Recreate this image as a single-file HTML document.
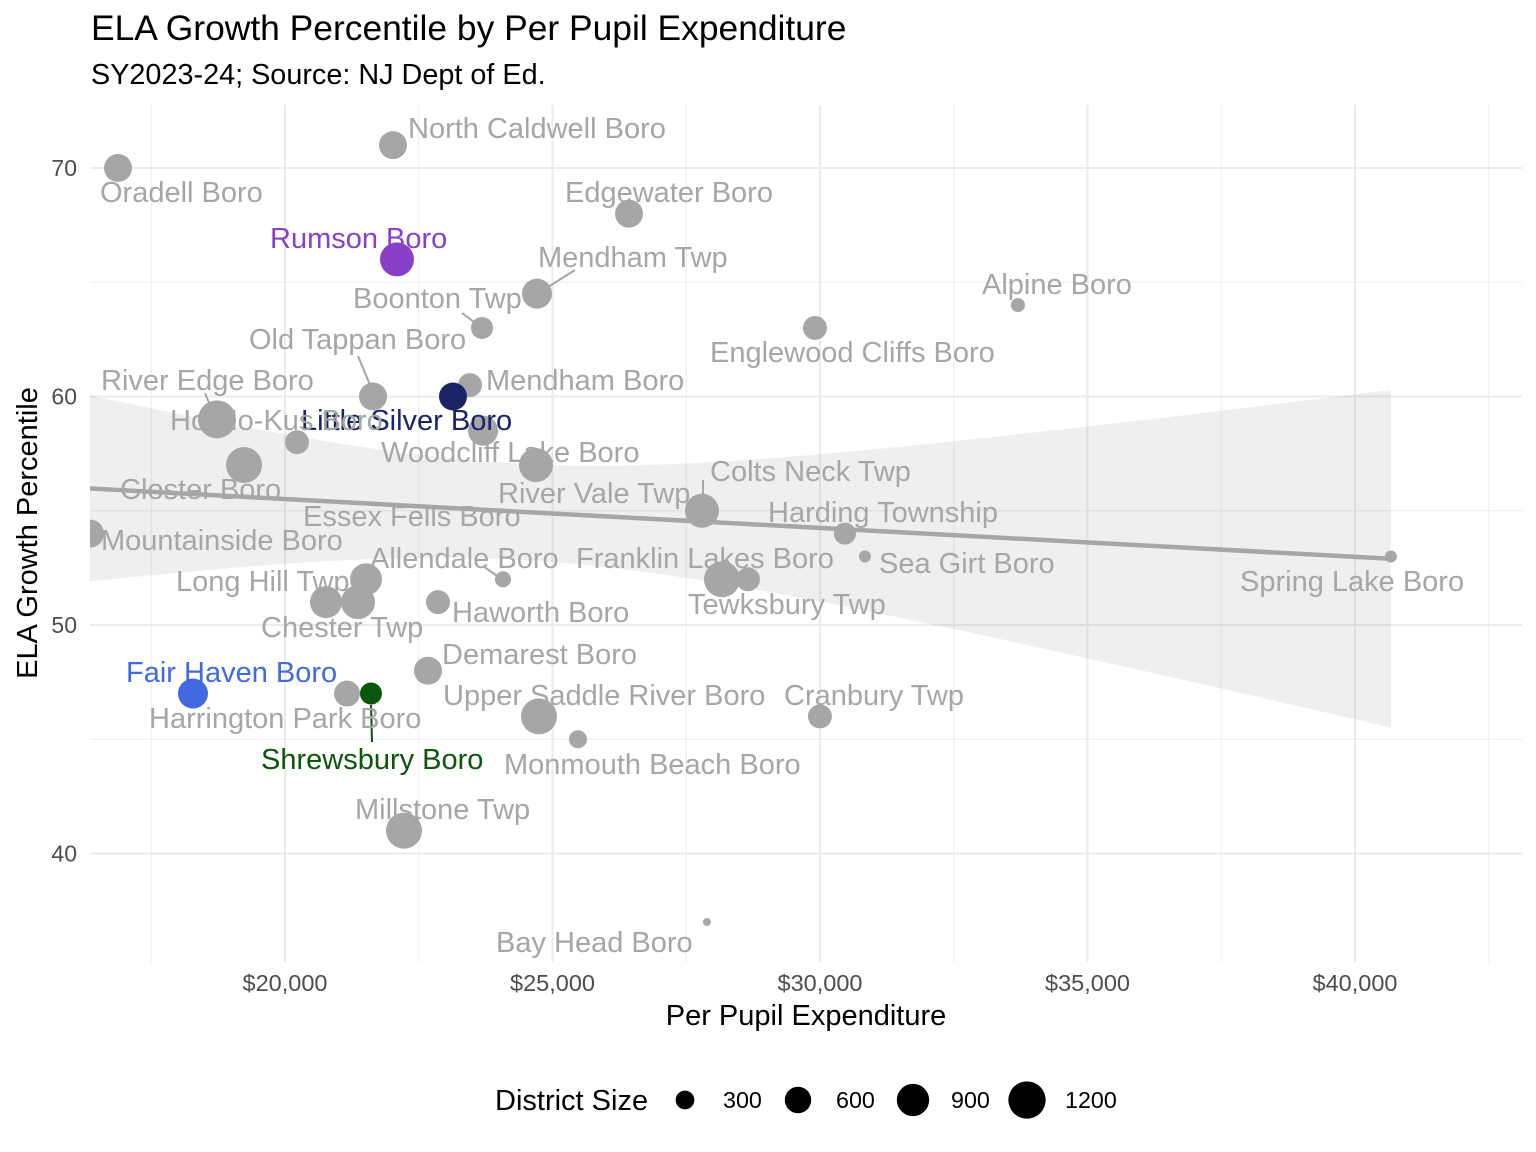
<!DOCTYPE html>
<html><head><meta charset="utf-8"><style>
body{margin:0;background:#fff;}
svg{display:block;font-family:"Liberation Sans",sans-serif;}
</style></head><body>
<svg id="chart" width="1536" height="1152" viewBox="0 0 1536 1152">
<text x="91" y="40" font-size="35.4" fill="#000">ELA Growth Percentile by Per Pupil Expenditure</text>
<text x="91" y="84" font-size="28.8" fill="#000">SY2023-24; Source: NJ Dept of Ed.</text>
<defs><clipPath id="pclip"><rect x="90" y="105" width="1432" height="857"/></clipPath></defs>
<g id="grid"></g>
<g id="ribbon" clip-path="url(#pclip)"></g>
<g id="points" clip-path="url(#pclip)"></g>
<g id="labels"></g>
<g id="axes"></g>
<text x="806" y="1025" font-size="29" text-anchor="middle">Per Pupil Expenditure</text>
<text transform="translate(37,533) rotate(-90)" font-size="29" text-anchor="middle">ELA Growth Percentile</text>
<g id="legend"></g>
</svg>
<script>
const names=["Oradell Boro","North Caldwell Boro","Edgewater Boro","Rumson Boro","Mendham Twp","Alpine Boro","Boonton Twp","Englewood Cliffs Boro","Old Tappan Boro","Mendham Boro","Little Silver Boro","River Edge Boro","Ho-Ho-Kus Boro","Woodcliff Lake Boro","Closter Boro","River Vale Twp","Colts Neck Twp","Harding Township","Sea Girt Boro","Spring Lake Boro","Mountainside Boro","Allendale Boro","Franklin Lakes Boro","Tewksbury Twp","Long Hill Twp","Chester Twp","Essex Fells Boro","Haworth Boro","Demarest Boro","Fair Haven Boro","Harrington Park Boro","Shrewsbury Boro","Upper Saddle River Boro","Cranbury Twp","Monmouth Beach Boro","Millstone Twp","Bay Head Boro"];
const expend=[16879,22019,26430,22093,24710,33700,23682,29906,21645,23458,23140,20224,18729,23701,19234,24691,27794,30466,30840,40671,16355,24074,28168,28654,21514,20766,21364,22860,22673,18280,21159,21607,24747,29999,25476,22224,27887];
const growth=[70,71,68,66,64.5,64,63,63,60,60.5,60,58,59,58.5,57,57,55,54,53,53,54,52,52,52,52,51,51,51,48,47,47,47,46,46,45,41,37];
const sizes=[648,648,648,955,744,162,400,476,648,476,648,476,1193,744,1071,955,955,400,119,119,648,212,1071,476,846,846,955,476,648,744,559,400,1071,476,268,1071,53];
const xTicks=[20000,25000,30000,35000,40000];
const xTickLabels=["$20,000","$25,000","$30,000","$35,000","$40,000"];
const yTicks=[40,50,60,70];
const legendSizes=[300,600,900,1200];
</script>
<script>
const NS="http://www.w3.org/2000/svg";
function mk(t,a,p){const e=document.createElementNS(NS,t);for(const k in a)e.setAttribute(k,a[k]);p.appendChild(e);return e;}
const X=v=>285+(v-20000)*0.0535;
const Y=v=>168+(70-v)*22.85;
const R=s=>0.55*Math.sqrt(s);
const L=90,Rt=1522,T=105,B=962;
const grid=document.getElementById('grid');
for(let v=17500;v<=42500;v+=5000){const l=mk('line',{x1:X(v),x2:X(v),y1:T,y2:B,stroke:'#ebebeb','stroke-width':1},grid);}
for(let v=45;v<=65;v+=10){const l=mk('line',{x1:L,x2:Rt,y1:Y(v),y2:Y(v),stroke:'#ebebeb','stroke-width':1},grid);}
const axes=document.getElementById('axes');
xTicks.forEach((v,i)=>{const l=mk('line',{x1:X(v),x2:X(v),y1:T,y2:B,stroke:'#ebebeb','stroke-width':2},grid);

const t=mk('text',{x:X(v),y:991,'font-size':23.5,'text-anchor':'middle',fill:'#4d4d4d'},axes);t.textContent=xTickLabels[i];
});
yTicks.forEach(v=>{const l=mk('line',{x1:L,x2:Rt,y1:Y(v),y2:Y(v),stroke:'#ebebeb','stroke-width':2},grid);

const t=mk('text',{x:77,y:Y(v)+8,'font-size':23,'text-anchor':'end',fill:'#4d4d4d'},axes);t.textContent=v;
});
const n=expend.length;const mx=expend.reduce((a,b)=>a+b)/n,my=growth.reduce((a,b)=>a+b)/n;
let sxx=0,sxy=0;for(let i=0;i<n;i++){sxx+=(expend[i]-mx)**2;sxy+=(expend[i]-mx)*(growth[i]-my);}
const b1=sxy/sxx,b0=my-b1*mx;let sse=0;for(let i=0;i<n;i++)sse+=(growth[i]-b0-b1*expend[i])**2;
const s=Math.sqrt(sse/(n-2)),tq=1.58;
const x0=Math.min(...expend),x1=Math.max(...expend);
const up=[],lo=[];for(let k=0;k<=80;k++){const v=x0+(x1-x0)*k/80;const f=b0+b1*v;const se=s*Math.sqrt(1/n+(v-mx)**2/sxx);up.push(X(v)+','+Y(f+tq*se));lo.unshift(X(v)+','+Y(f-tq*se));}
const rg=document.getElementById('ribbon');
const rb=mk('polygon',{points:up.concat(lo).join(' '),fill:'#999','fill-opacity':0.16},rg);

const rl=mk('line',{x1:X(x0),y1:Y(b0+b1*x0),x2:X(x1),y2:Y(b0+b1*x1),stroke:'#a6a6a6','stroke-width':4.5},rg);

const colors={"Rumson Boro":"#8a3fcb","Little Silver Boro":"#1a2466","Fair Haven Boro":"#4169e1","Shrewsbury Boro":"#0a560a"};
const pg=document.getElementById('points');
const order=names.map((_,i)=>i).sort((a,b)=>(colors[names[a]]?1:0)-(colors[names[b]]?1:0));
order.forEach(i=>{const c=mk('circle',{cx:X(expend[i]),cy:Y(growth[i]),r:R(sizes[i]),fill:colors[names[i]]||'#a6a6a6'},pg);
});
const lblPos={"North Caldwell Boro":[408,128],"Oradell Boro":[100,192],"Edgewater Boro":[565,192],"Rumson Boro":[270,238],"Mendham Twp":[538,257],"Alpine Boro":[982,284],"Boonton Twp":[353,298],"Old Tappan Boro":[249,339],"Englewood Cliffs Boro":[710,352],"River Edge Boro":[101,380],"Mendham Boro":[486,380],"Ho-Ho-Kus Boro":[170,420],"Little Silver Boro":[301,420],"Woodcliff Lake Boro":[381,452],"Colts Neck Twp":[710,471],"Closter Boro":[120,489],"River Vale Twp":[498,493],"Harding Township":[768,512],"Essex Fells Boro":[303,516],"Mountainside Boro":[101,540],"Allendale Boro":[370,558],"Franklin Lakes Boro":[576,558],"Sea Girt Boro":[879,563],"Long Hill Twp":[176,581],"Spring Lake Boro":[1240,581],"Tewksbury Twp":[688,604],"Haworth Boro":[452,612],"Chester Twp":[261,627],"Demarest Boro":[442,654],"Fair Haven Boro":[126,672],"Upper Saddle River Boro":[443,695],"Cranbury Twp":[784,695],"Harrington Park Boro":[149,718],"Shrewsbury Boro":[261,759],"Monmouth Beach Boro":[504,764],"Millstone Twp":[355,809],"Bay Head Boro":[496,942]};
const segs=[[548,287,575,270,'#a6a6a6'],[462,313,482,328,'#a6a6a6'],[358,356,370,385,'#a6a6a6'],[205,393,212,410,'#a6a6a6'],[703,480,703,500,'#a6a6a6'],[483,566,500,578,'#a6a6a6'],[371,705,372,742,'#0a560a']];
const lg=document.getElementById('labels');
segs.forEach(q=>{const l=mk('line',{x1:q[0],y1:q[1],x2:q[2],y2:q[3],stroke:q[4],'stroke-width':2},lg);});
names.forEach(nm=>{const p=lblPos[nm];if(!p)return;const t=mk('text',{x:p[0],y:p[1]+10,'font-size':29,fill:colors[nm]||'#a6a6a6'},lg);t.textContent=nm;
});
const leg=document.getElementById('legend');
const lt=mk('text',{x:495,y:1110,'font-size':29},leg);lt.textContent='District Size';
const lx=[685,798,913,1027];
legendSizes.forEach((v,i)=>{const c=mk('circle',{cx:lx[i],cy:1100,r:R(v)*0.98,fill:'#000'},leg);
const t=mk('text',{x:lx[i]+38,y:1108,'font-size':23.3},leg);t.textContent=v;});
</script>
</body></html>
